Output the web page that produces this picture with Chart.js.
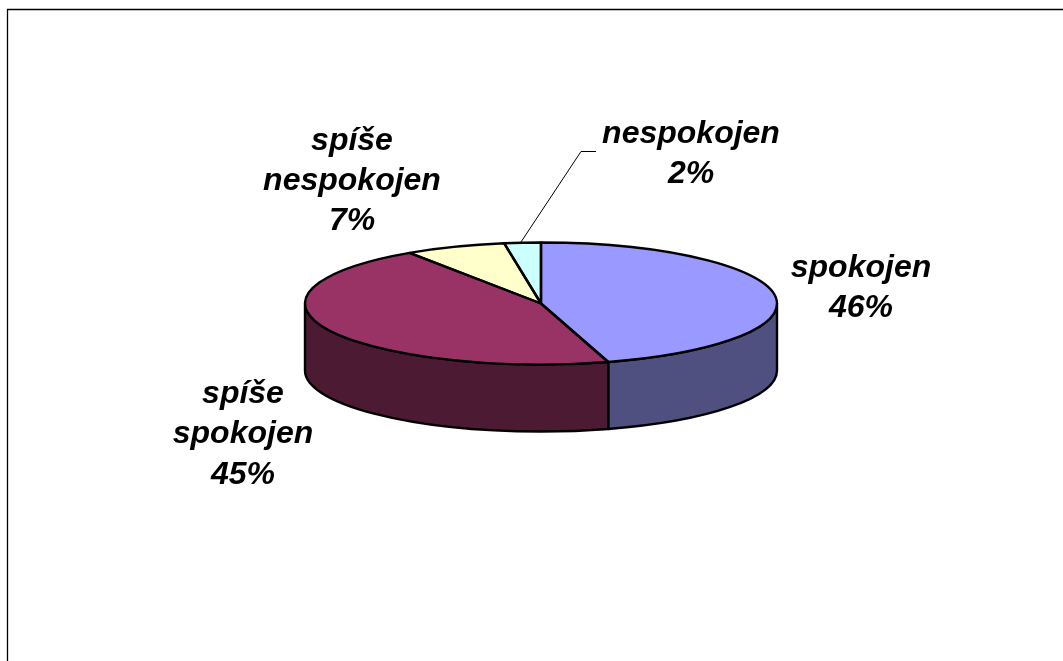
<!DOCTYPE html>
<html>
<head>
<meta charset="utf-8">
<style>
  html, body { margin: 0; padding: 0; background: #fff; overflow: hidden; }
  #wrap { position: relative; width: 1063px; height: 661px; }
</style>
<script src="https://cdn.jsdelivr.net/npm/chart.js@4/dist/chart.umd.min.js"></script>
</head>
<body>
<div id="wrap"><canvas id="chart" width="1063" height="661"></canvas></div>
<script>
const categories = ["spokojen", "spíše spokojen", "spíše nespokojen", "nespokojen"];
// slice sizes as measured on the disc, printed labels are the rounded ones
const values = [45.4, 45.2, 6.9, 2.5];
const printedPercent = [46, 45, 7, 2];
const topColors = ["#9999ff", "#993366", "#ffffcc", "#ccffff"];
const sideColors = ["#4f4f80", "#4d1a33", "#808066", "#668080"];

const squash = 0.2585;   // flattening of the disc
const depth = 67;        // height of the wall in px
const outline = 2.4;

// wall of the disc + squashing of the top face
const disc3d = {
  id: "disc3d",
  beforeDatasetsDraw(chart) {
    const ctx = chart.ctx;
    const arcs = chart.getDatasetMeta(0).data;
    const cx = arcs[0].x, cy = arcs[0].y, r = arcs[0].outerRadius;
    const ry = r * squash;
    arcs.forEach((arc, i) => {
      // only the front half (0..PI in canvas angles) is seen
      const a0 = Math.max(arc.startAngle, 0);
      const a1 = Math.min(arc.endAngle, Math.PI);
      if (a1 <= a0) return;
      ctx.beginPath();
      ctx.ellipse(cx, cy, r, ry, 0, a0, a1);
      ctx.lineTo(cx + r * Math.cos(a1), cy + ry * Math.sin(a1) + depth);
      ctx.ellipse(cx, cy + depth, r, ry, 0, a1, a0, true);
      ctx.closePath();
      ctx.fillStyle = sideColors[i];
      ctx.strokeStyle = "#000";
      ctx.lineWidth = outline;
      ctx.lineJoin = "round";
      ctx.fill();
      ctx.stroke();
    });
    ctx.save();
    ctx.translate(cx, cy);
    ctx.scale(1, squash);
    ctx.translate(-cx, -cy);
  },
  afterDatasetsDraw(chart) {
    const ctx = chart.ctx;
    ctx.restore();
    // outline redrawn so it keeps an even width after the squash
    const arcs = chart.getDatasetMeta(0).data;
    const cx = arcs[0].x, cy = arcs[0].y, r = arcs[0].outerRadius;
    ctx.save();
    ctx.strokeStyle = "#000";
    ctx.lineWidth = outline;
    ctx.lineJoin = "round";
    arcs.forEach(arc => {
      ctx.beginPath();
      ctx.moveTo(cx, cy);
      ctx.ellipse(cx, cy, r, r * squash, 0, arc.startAngle, arc.endAngle);
      ctx.closePath();
      ctx.stroke();
    });
    ctx.restore();
  }
};

// frame, leader line and the data labels
const labelSpots = [
  { x: 861, y: [268, 308] },
  { x: 243, y: [394, 434, 475] },
  { x: 352, y: [141, 181, 221] },
  { x: 691, y: [134, 174] }
];
const labelLines = [
  ["spokojen"],
  ["spíše", "spokojen"],
  ["spíše", "nespokojen"],
  ["nespokojen"]
];
const annotations = {
  id: "annotations",
  afterDraw(chart) {
    const ctx = chart.ctx;
    ctx.save();
    ctx.strokeStyle = "#000";
    ctx.lineWidth = 1.3;
    ctx.beginPath();
    ctx.moveTo(7.5, 661);
    ctx.lineTo(7.5, 9.5);
    ctx.lineTo(1063, 9.5);
    ctx.stroke();
    ctx.lineWidth = 1;
    ctx.beginPath();
    ctx.moveTo(596, 151.5);
    ctx.lineTo(581, 151.5);
    ctx.lineTo(521, 242);
    ctx.stroke();
    ctx.fillStyle = "#000";
    ctx.font = "italic bold 32px 'Liberation Sans'";
    ctx.textAlign = "center";
    ctx.textBaseline = "middle";
    categories.forEach((c, i) => {
      const lines = [...labelLines[i], printedPercent[i] + "%"];
      lines.forEach((t, j) => ctx.fillText(t, labelSpots[i].x, labelSpots[i].y[j]));
    });
    ctx.restore();
  }
};

new Chart(document.getElementById("chart").getContext("2d"), {
  type: "pie",
  data: {
    labels: categories,
    datasets: [{
      data: values,
      backgroundColor: topColors,
      borderWidth: 0,
      radius: 236
    }]
  },
  options: {
    responsive: false,
    animation: false,
    layout: { padding: { left: 19, bottom: 54 } },
    plugins: { legend: { display: false }, tooltip: { enabled: false } }
  },
  plugins: [disc3d, annotations]
});
</script>
</body>
</html>
